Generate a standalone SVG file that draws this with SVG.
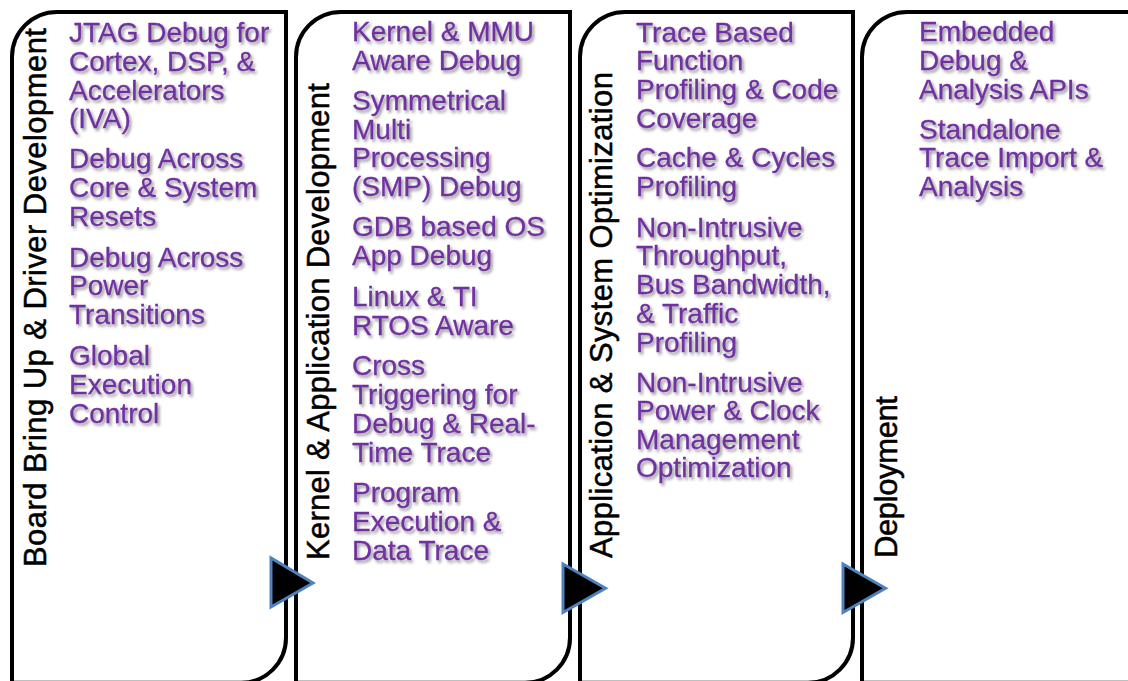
<svg xmlns="http://www.w3.org/2000/svg" width="1128" height="681" viewBox="0 0 1128 681">
  <defs>
    <filter id="sh" x="-5%" y="-20%" width="115%" height="160%">
      <feDropShadow dx="2" dy="2.5" stdDeviation="1.6" flood-color="#000" flood-opacity="0.42"/>
    </filter>
  </defs>
  <style>
    .panel { fill: #ffffff; stroke: #000000; stroke-width: 4; }
    .title { font-family: "Liberation Sans", Arial, sans-serif; font-size: 31px; fill: #000000; stroke: #000000; stroke-width: 0.5; }
    .item { font-family: "Liberation Sans", Arial, sans-serif; font-size: 28px; fill: #7030A0; stroke: #7030A0; stroke-width: 0.3; filter: url(#sh); }
    .arrow { fill: #000000; stroke: #4F81BD; stroke-width: 3; stroke-linejoin: miter; }
  </style>
  <rect x="0" y="0" width="1128" height="681" fill="#ffffff"/>

  <g id="stage-board-bringup">
    <path class="panel" d="M12,682.8 L12,57 A45,45 0 0 1 57,12 L286,12 L286,637.8 A45,45 0 0 1 241,682.8 Z"/>
    <text class="title" transform="translate(46,567) rotate(-90)" textLength="539" lengthAdjust="spacing">Board Bring Up &amp; Driver Development</text>
    <text class="item" x="69">
      <tspan x="69" y="42">JTAG Debug for</tspan>
      <tspan x="69" y="71">Cortex, DSP, &amp;</tspan>
      <tspan x="69" y="99.5">Accelerators</tspan>
      <tspan x="69" y="128">(IVA)</tspan>
      <tspan x="69" y="168">Debug Across</tspan>
      <tspan x="69" y="197">Core &amp; System</tspan>
      <tspan x="69" y="225.5">Resets</tspan>
      <tspan x="69" y="266.5">Debug Across</tspan>
      <tspan x="69" y="295">Power</tspan>
      <tspan x="69" y="324">Transitions</tspan>
      <tspan x="69" y="365">Global</tspan>
      <tspan x="69" y="393.5">Execution</tspan>
      <tspan x="69" y="422.5">Control</tspan>
    </text>
  </g>

  <g id="stage-kernel-app">
    <path class="panel" d="M296,682.8 L296,57 A45,45 0 0 1 341,12 L570,12 L570,637.8 A45,45 0 0 1 525,682.8 Z"/>
    <text class="title" transform="translate(329,560) rotate(-90)" textLength="477" lengthAdjust="spacing">Kernel &amp; Application Development</text>
    <text class="item" x="352">
      <tspan x="352" y="41">Kernel &amp; MMU</tspan>
      <tspan x="352" y="70">Aware Debug</tspan>
      <tspan x="352" y="110">Symmetrical</tspan>
      <tspan x="352" y="138.5">Multi</tspan>
      <tspan x="352" y="167">Processing</tspan>
      <tspan x="352" y="196">(SMP) Debug</tspan>
      <tspan x="352" y="236">GDB based OS</tspan>
      <tspan x="352" y="265">App Debug</tspan>
      <tspan x="352" y="305.5">Linux &amp; TI</tspan>
      <tspan x="352" y="334.5">RTOS Aware</tspan>
      <tspan x="352" y="375">Cross</tspan>
      <tspan x="352" y="404">Triggering for</tspan>
      <tspan x="352" y="433">Debug &amp; Real-</tspan>
      <tspan x="352" y="461.5">Time Trace</tspan>
      <tspan x="352" y="502">Program</tspan>
      <tspan x="352" y="531">Execution &amp;</tspan>
      <tspan x="352" y="560">Data Trace</tspan>
    </text>
  </g>

  <g id="stage-app-system-opt">
    <path class="panel" d="M580,682.8 L580,57 A45,45 0 0 1 625,12 L853,12 L853,637.8 A45,45 0 0 1 808,682.8 Z"/>
    <text class="title" transform="translate(612,558) rotate(-90)" textLength="486" lengthAdjust="spacing">Application &amp; System Optimization</text>
    <text class="item" x="636">
      <tspan x="636" y="41.5">Trace Based</tspan>
      <tspan x="636" y="70">Function</tspan>
      <tspan x="636" y="99">Profiling &amp; Code</tspan>
      <tspan x="636" y="127.5">Coverage</tspan>
      <tspan x="636" y="167">Cache &amp; Cycles</tspan>
      <tspan x="636" y="196">Profiling</tspan>
      <tspan x="636" y="236.5">Non-Intrusive</tspan>
      <tspan x="636" y="265">Throughput,</tspan>
      <tspan x="636" y="294">Bus Bandwidth,</tspan>
      <tspan x="636" y="322.5">&amp; Traffic</tspan>
      <tspan x="636" y="351.5">Profiling</tspan>
      <tspan x="636" y="391.5">Non-Intrusive</tspan>
      <tspan x="636" y="420">Power &amp; Clock</tspan>
      <tspan x="636" y="449">Management</tspan>
      <tspan x="636" y="477">Optimization</tspan>
    </text>
  </g>

  <g id="stage-deployment">
    <path class="panel" d="M862,682.8 L862,57 A45,45 0 0 1 907,12 L1190,12 L1190,637.8 A45,45 0 0 1 1145,682.8 Z"/>
    <text class="title" transform="translate(897,558) rotate(-90)" textLength="162" lengthAdjust="spacing">Deployment</text>
    <text class="item" x="919">
      <tspan x="919" y="41">Embedded</tspan>
      <tspan x="919" y="70">Debug &amp;</tspan>
      <tspan x="919" y="98.5">Analysis APIs</tspan>
      <tspan x="919" y="138.5">Standalone</tspan>
      <tspan x="919" y="167">Trace Import &amp;</tspan>
      <tspan x="919" y="196">Analysis</tspan>
    </text>
  </g>

  <g id="connectors">
    <polygon class="arrow" points="271,558 271,607 313,583"/>
    <polygon class="arrow" points="563,564 563,612.5 605.5,588.3"/>
    <polygon class="arrow" points="843,564 843,612.5 885.5,588.3"/>
  </g>
</svg>
